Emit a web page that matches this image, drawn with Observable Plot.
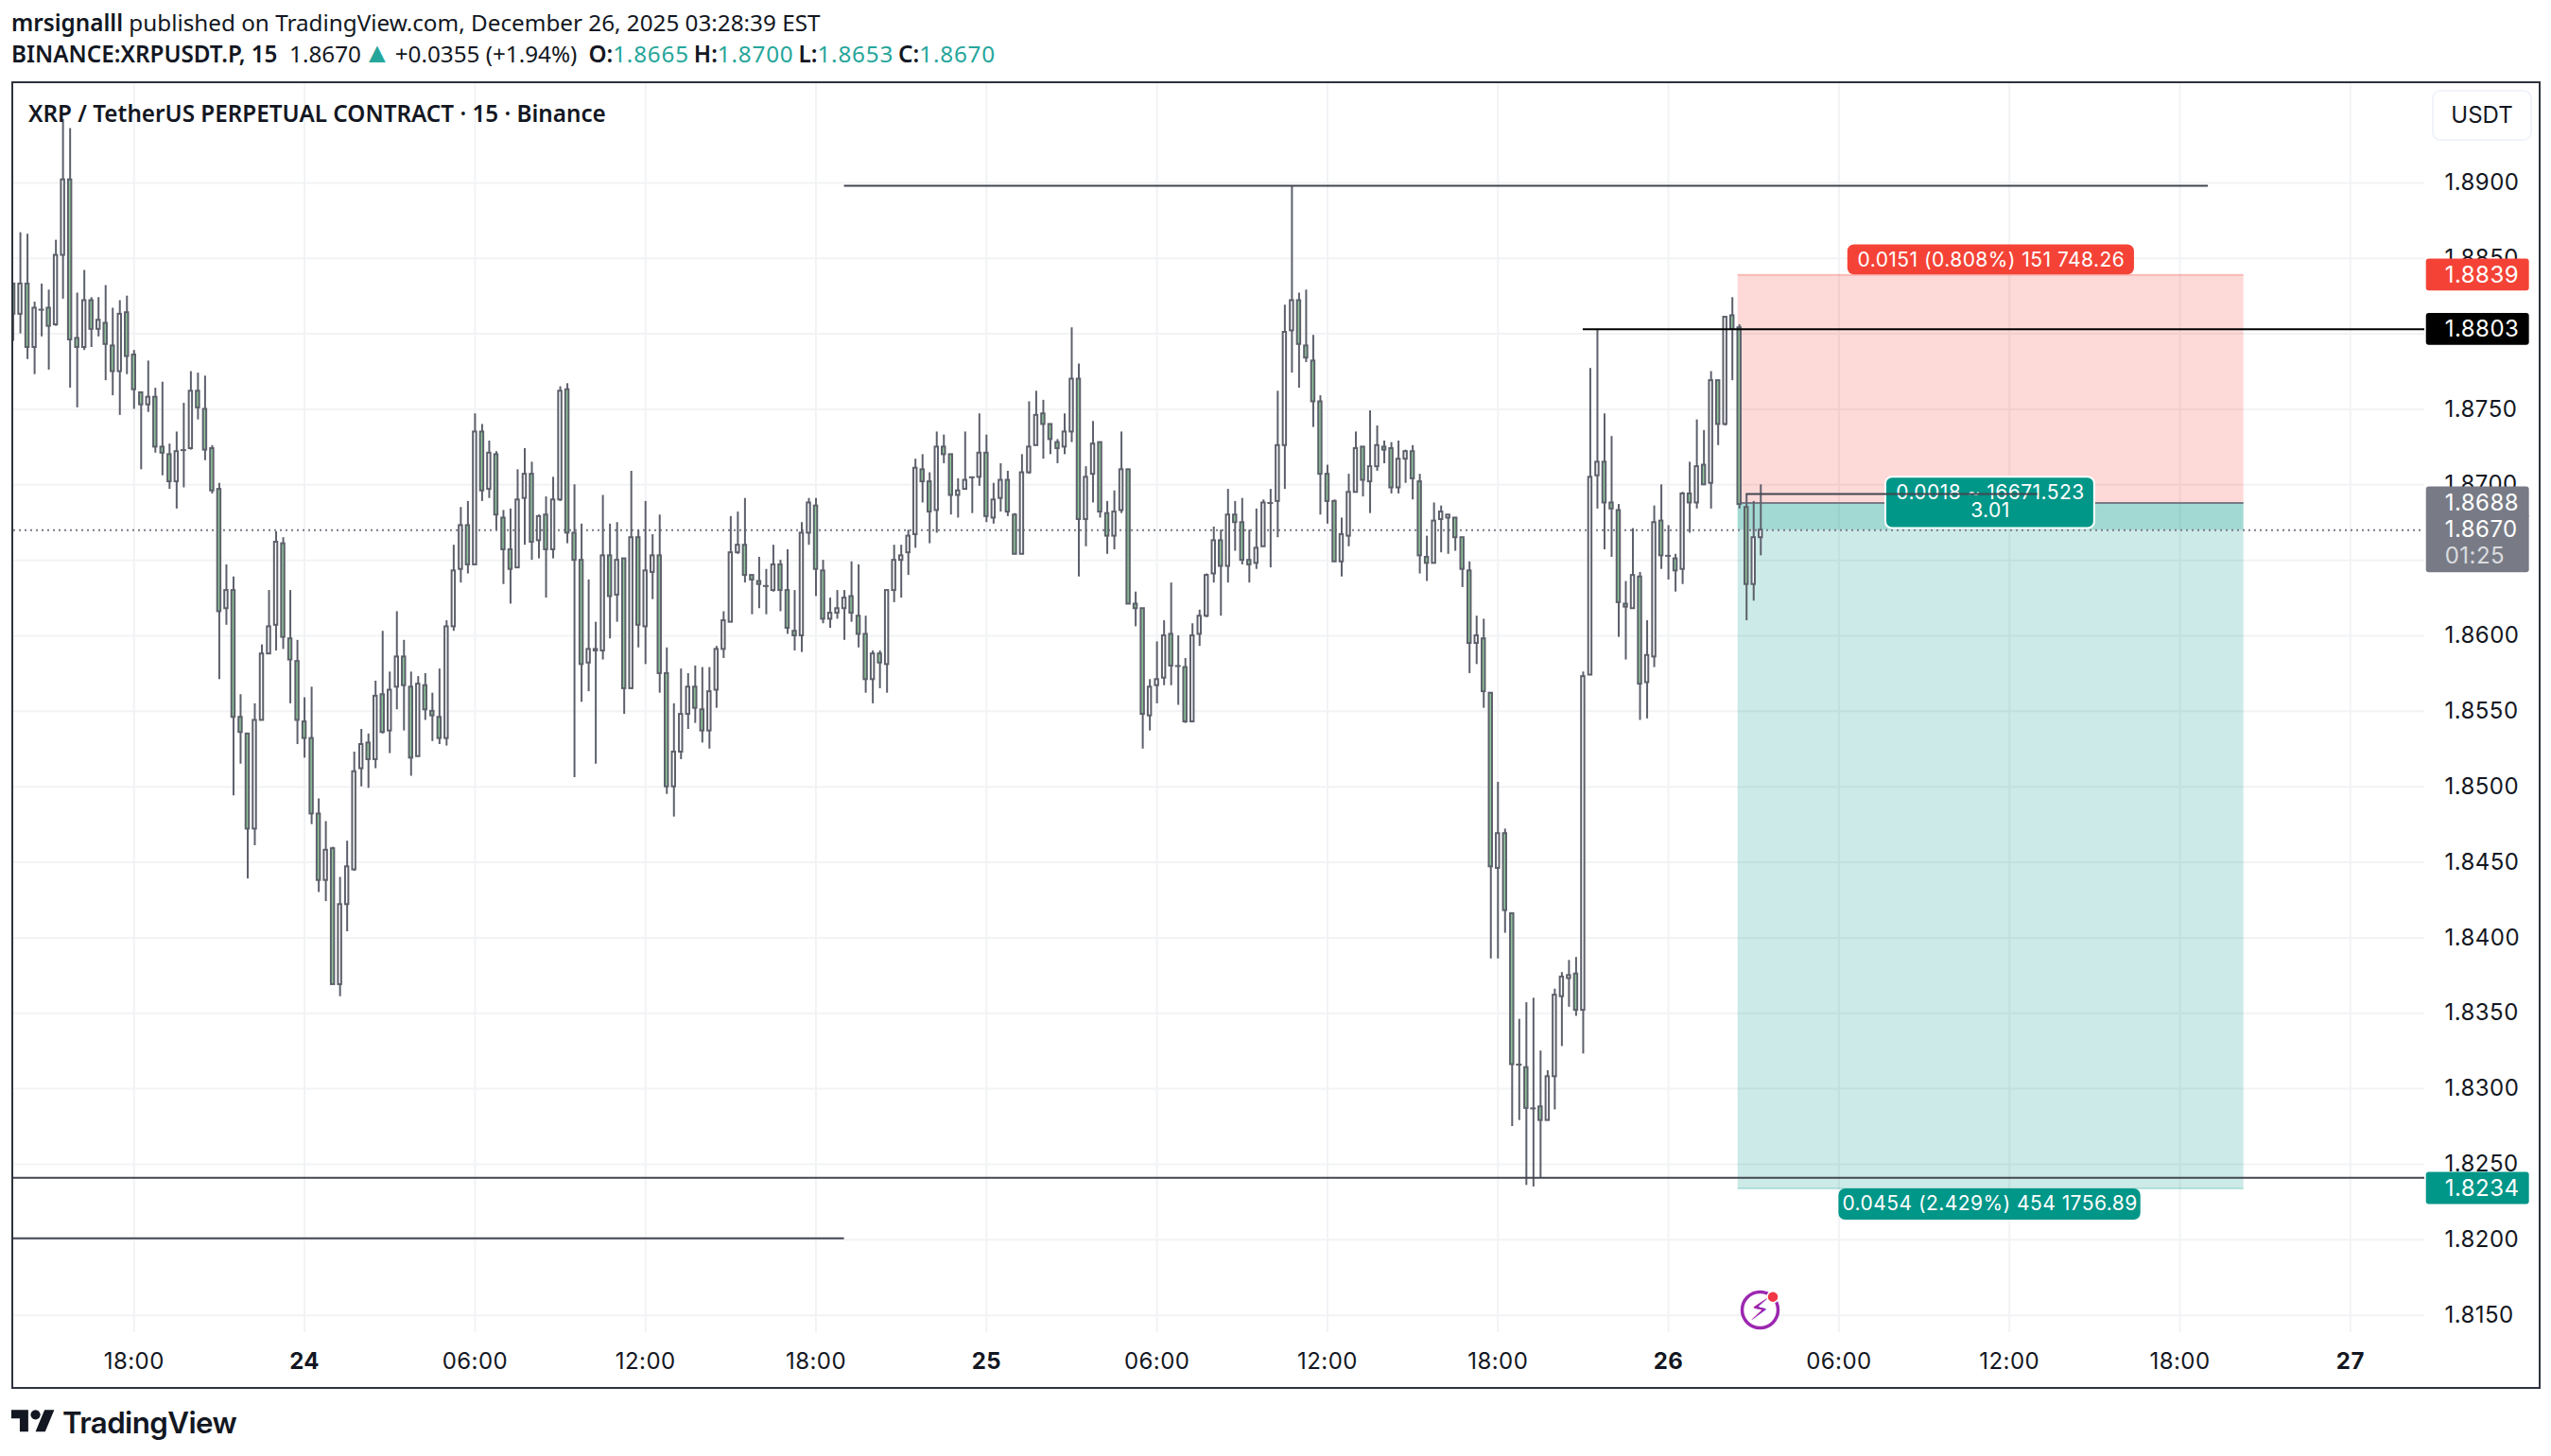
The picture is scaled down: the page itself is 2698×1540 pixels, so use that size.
<!DOCTYPE html>
<html><head><meta charset="utf-8">
<script src="https://cdn.jsdelivr.net/npm/d3@7"></script>
<script src="https://cdn.jsdelivr.net/npm/@observablehq/plot@0.6"></script>
<style>
html,body{margin:0;padding:0;background:#fff;overflow:hidden;width:2698px;height:1540px}
#page{position:relative;width:2698px;height:1540px}
#head{position:relative;height:87px;font-family:"Noto Sans",sans-serif;color:#131722}
.ln{position:absolute;left:12px;white-space:pre;font-size:24.25px;line-height:32px}
.ln b{font-weight:600}.g{color:#26A69A;letter-spacing:.8px}.up{font-size:30px;line-height:20px;margin:0 4px 0 2px;letter-spacing:0}
.q{margin-left:5px}.o{margin-left:12px}
#chartbox svg{display:block}
#chartbox svg text{letter-spacing:.45px}
#frame{position:absolute;left:12px;top:86px;width:2671px;height:1379px;border:2px solid #2E323D;pointer-events:none}
#title{position:absolute;left:30px;top:103px;font:600 24.25px/34px "Noto Sans",sans-serif;color:#131722;white-space:pre}
#usdt{position:absolute;left:2572px;top:95px;width:102px;height:50px;border:2px solid #F0F3FA;border-radius:9px;background:#fff;font:400 24px/50px Inter,sans-serif;color:#131722;text-align:center}
#logo{position:absolute;left:12px;top:1486px;width:46px;height:36px}
#wordmark{position:absolute;left:66px;top:1484px;font:600 31.3px/42px Inter,sans-serif;letter-spacing:-.6px;color:#131722}
</style></head><body>
<div id="page">
<div id="head">
<div class="ln" style="top:8px"><b>mrsignalll</b> published on TradingView.com, December 26, 2025 03:28:39 EST</div>
<div class="ln" style="top:41px"><b>BINANCE:XRPUSDT.P, 15</b>  1.8670<span class="g up">▲</span>+0.0355 (+1.94%)<b class="o">O:</b><span class="g">1.8665</span><b class="q">H:</b><span class="g">1.8700</span><b class="q">L:</b><span class="g">1.8653</span><b class="q">C:</b><span class="g">1.8670</span></div>
</div>
<div id="chartbox"></div>
<div id="frame"></div>
<div id="title">XRP / TetherUS PERPETUAL CONTRACT · 15 · Binance</div>
<div id="usdt">USDT</div>
<svg id="logo" viewBox="0 0 36 28"><path fill="#131722" d="M14 22H7V11H0V4h14v18zM28 22h-8l7.5-18h8L28 22z"/><circle fill="#131722" cx="20" cy="8" r="4"/></svg>
<div id="wordmark">TradingView</div>
</div>
<script>
const firstBar = -17; // bars are counted in 15-minute steps from Dec 23 18:00
const open = [
1.8833,1.8813,1.8833,1.8791,1.8816,1.8817,1.8806,1.8852,1.8902,1.8797,
1.8791,1.8822,1.8803,1.8807,1.8792,1.8775,1.8814,1.8786,1.8761,1.8753,
1.8758,1.8725,1.8720,1.8702,1.8723,1.8724,1.8762,1.8750,1.8724,1.8697,
1.8618,1.8630,1.8546,1.8535,1.8472,1.8544,1.8588,1.8607,1.8661,1.8598,
1.8583,1.8543,1.8532,1.8482,1.8438,1.8459,1.8369,1.8422,1.8445,1.8512,
1.8529,1.8518,1.8561,1.8537,1.8566,1.8586,1.8566,1.8520,1.8567,1.8550,
1.8546,1.8532,1.8606,1.8644,1.8673,1.8647,1.8735,1.8697,1.8720,1.8678,
1.8657,1.8645,1.8691,1.8707,1.8663,1.8680,1.8657,1.8690,1.8763,1.8668,
1.8650,1.8582,1.8591,1.8590,1.8653,1.8627,1.8651,1.8565,1.8665,1.8606,
1.8642,1.8653,1.8575,1.8500,1.8523,1.8548,1.8566,1.8551,1.8537,1.8564,
1.8591,1.8609,1.8655,1.8660,1.8640,1.8636,1.8633,1.8630,1.8647,1.8630,
1.8603,1.8600,1.8668,1.8686,1.8643,1.8611,1.8615,1.8618,1.8626,1.8613,
1.8601,1.8571,1.8588,1.8581,1.8630,1.8650,1.8655,1.8667,1.8710,1.8702,
1.8683,1.8725,1.8720,1.8693,1.8697,1.8705,1.8705,1.8721,1.8678,1.8691,
1.8703,1.8680,1.8654,1.8708,1.8726,1.8747,1.8740,1.8728,1.8725,1.8735,
1.8770,1.8677,1.8707,1.8728,1.8681,1.8666,1.8683,1.8710,1.8621,1.8618,
1.8547,1.8567,1.8572,1.8601,1.8580,1.8579,1.8543,1.8601,1.8613,1.8641,
1.8663,1.8646,1.8680,1.8675,1.8650,1.8648,1.8659,1.8688,1.8689,1.8726,
1.8802,1.8822,1.8792,1.8782,1.8755,1.8707,1.8689,1.8649,1.8666,1.8695,
1.8725,1.8702,1.8712,1.8725,1.8724,1.8698,1.8717,1.8722,1.8702,1.8652,
1.8648,1.8677,1.8678,1.8678,1.8665,1.8643,1.8595,1.8598,1.8562,1.8446,
1.8469,1.8416,1.8316,1.8314,1.8287,1.8288,1.8279,1.8308,1.8361,1.8373,
1.8376,1.8352,1.8574,1.8706,1.8715,1.8688,1.8683,1.8621,1.8618,1.8639,
1.8569,1.8586,1.8676,1.8653,1.8651,1.8644,1.8694,1.8688,1.8713,1.8701,
1.8769,1.8740,1.8812,1.8804,1.8685,1.8634,1.8665];
const close = [
1.8813,1.8833,1.8791,1.8817,1.8816,1.8805,1.8852,1.8902,1.8796,1.8791,
1.8822,1.8803,1.8809,1.8793,1.8775,1.8813,1.8785,1.8763,1.8753,1.8758,
1.8725,1.8721,1.8702,1.8722,1.8723,1.8762,1.8751,1.8723,1.8696,1.8616,
1.8630,1.8546,1.8536,1.8472,1.8544,1.8588,1.8606,1.8662,1.8599,1.8584,
1.8544,1.8532,1.8482,1.8438,1.8458,1.8369,1.8422,1.8447,1.8510,1.8528,
1.8518,1.8560,1.8536,1.8564,1.8586,1.8567,1.8519,1.8568,1.8551,1.8547,
1.8532,1.8606,1.8643,1.8673,1.8647,1.8735,1.8696,1.8721,1.8680,1.8657,
1.8644,1.8690,1.8707,1.8662,1.8679,1.8657,1.8690,1.8762,1.8668,1.8650,
1.8581,1.8591,1.8590,1.8653,1.8626,1.8650,1.8565,1.8665,1.8607,1.8643,
1.8653,1.8575,1.8500,1.8523,1.8548,1.8566,1.8552,1.8537,1.8563,1.8591,
1.8610,1.8655,1.8660,1.8640,1.8637,1.8634,1.8633,1.8647,1.8630,1.8605,
1.8600,1.8668,1.8688,1.8644,1.8611,1.8615,1.8618,1.8625,1.8615,1.8601,
1.8571,1.8588,1.8582,1.8630,1.8650,1.8653,1.8666,1.8711,1.8702,1.8682,
1.8725,1.8720,1.8693,1.8696,1.8703,1.8705,1.8721,1.8679,1.8690,1.8703,
1.8682,1.8654,1.8708,1.8725,1.8746,1.8740,1.8730,1.8724,1.8735,1.8770,
1.8677,1.8705,1.8727,1.8682,1.8666,1.8682,1.8710,1.8621,1.8618,1.8548,
1.8566,1.8571,1.8600,1.8580,1.8580,1.8543,1.8600,1.8613,1.8640,1.8663,
1.8646,1.8680,1.8675,1.8650,1.8647,1.8658,1.8688,1.8688,1.8726,1.8801,
1.8822,1.8793,1.8784,1.8755,1.8707,1.8689,1.8649,1.8667,1.8695,1.8724,
1.8703,1.8712,1.8726,1.8723,1.8698,1.8717,1.8722,1.8704,1.8653,1.8648,
1.8676,1.8682,1.8680,1.8665,1.8644,1.8595,1.8600,1.8563,1.8447,1.8469,
1.8418,1.8316,1.8316,1.8287,1.8287,1.8279,1.8308,1.8362,1.8374,1.8375,
1.8352,1.8573,1.8705,1.8715,1.8688,1.8684,1.8622,1.8619,1.8640,1.8568,
1.8587,1.8675,1.8653,1.8653,1.8643,1.8694,1.8688,1.8712,1.8700,1.8769,
1.8740,1.8811,1.8803,1.8687,1.8634,1.8665,1.8670];
const high = [
1.8833,1.8867,1.8866,1.8821,1.8833,1.8829,1.8862,1.8942,1.8936,1.8827,
1.8842,1.8824,1.8824,1.8832,1.8817,1.8822,1.8825,1.8789,1.8761,1.8782,
1.8764,1.8768,1.8727,1.8735,1.8754,1.8775,1.8774,1.8772,1.8726,1.8701,
1.8647,1.8639,1.8561,1.8535,1.8555,1.8594,1.8630,1.8669,1.8665,1.8630,
1.8597,1.8559,1.8566,1.8492,1.8477,1.8460,1.8440,1.8464,1.8523,1.8538,
1.8535,1.8570,1.8603,1.8576,1.8616,1.8597,1.8576,1.8573,1.8575,1.8562,
1.8578,1.8610,1.8660,1.8685,1.8689,1.8747,1.8740,1.8729,1.8722,1.8683,
1.8684,1.8710,1.8724,1.8715,1.8680,1.8692,1.8705,1.8765,1.8767,1.8700,
1.8674,1.8637,1.8609,1.8693,1.8674,1.8675,1.8651,1.8709,1.8670,1.8689,
1.8667,1.8680,1.8592,1.8555,1.8578,1.8575,1.8580,1.8579,1.8579,1.8593,
1.8616,1.8679,1.8682,1.8691,1.8640,1.8652,1.8644,1.8660,1.8650,1.8657,
1.8630,1.8675,1.8691,1.8691,1.8650,1.8625,1.8630,1.8630,1.8649,1.8647,
1.8613,1.8590,1.8590,1.8630,1.8660,1.8660,1.8670,1.8717,1.8720,1.8708,
1.8735,1.8733,1.8720,1.8704,1.8735,1.8705,1.8747,1.8733,1.8701,1.8714,
1.8709,1.8681,1.8720,1.8755,1.8762,1.8756,1.8740,1.8730,1.8747,1.8804,
1.8780,1.8712,1.8742,1.8728,1.8689,1.8696,1.8735,1.8710,1.8629,1.8618,
1.8571,1.8596,1.8610,1.8635,1.8600,1.8585,1.8608,1.8617,1.8641,1.8672,
1.8670,1.8697,1.8689,1.8691,1.8670,1.8684,1.8690,1.8697,1.8762,1.8819,
1.8898,1.8827,1.8829,1.8799,1.8759,1.8713,1.8690,1.8678,1.8707,1.8735,
1.8725,1.8749,1.8739,1.8729,1.8728,1.8729,1.8723,1.8726,1.8707,1.8666,
1.8688,1.8686,1.8680,1.8678,1.8665,1.8649,1.8613,1.8611,1.8562,1.8503,
1.8472,1.8416,1.8346,1.8357,1.8360,1.8325,1.8312,1.8366,1.8377,1.8385,
1.8387,1.8576,1.8777,1.8803,1.8747,1.8732,1.8687,1.8636,1.8671,1.8642,
1.8610,1.8686,1.8700,1.8673,1.8654,1.8695,1.8715,1.8743,1.8736,1.8775,
1.8769,1.8811,1.8824,1.8806,1.8694,1.8689,1.8700];
const low = [
1.8795,1.8800,1.8783,1.8773,1.8798,1.8776,1.8805,1.8823,1.8764,1.8751,
1.8789,1.8791,1.8798,1.8769,1.8759,1.8746,1.8773,1.8750,1.8710,1.8748,
1.8721,1.8706,1.8697,1.8684,1.8698,1.8723,1.8743,1.8716,1.8694,1.8571,
1.8607,1.8494,1.8515,1.8439,1.8461,1.8544,1.8588,1.8590,1.8591,1.8555,
1.8528,1.8519,1.8475,1.8430,1.8424,1.8369,1.8361,1.8404,1.8444,1.8500,
1.8499,1.8512,1.8535,1.8522,1.8551,1.8537,1.8507,1.8520,1.8544,1.8530,
1.8528,1.8527,1.8603,1.8635,1.8641,1.8647,1.8689,1.8691,1.8670,1.8634,
1.8621,1.8645,1.8660,1.8650,1.8651,1.8625,1.8651,1.8689,1.8661,1.8506,
1.8556,1.8563,1.8515,1.8584,1.8598,1.8609,1.8548,1.8565,1.8592,1.8581,
1.8624,1.8562,1.8495,1.8480,1.8518,1.8538,1.8542,1.8529,1.8525,1.8552,
1.8585,1.8609,1.8654,1.8635,1.8614,1.8618,1.8614,1.8629,1.8616,1.8601,
1.8590,1.8589,1.8660,1.8626,1.8608,1.8605,1.8611,1.8597,1.8609,1.8592,
1.8562,1.8555,1.8565,1.8562,1.8622,1.8625,1.8640,1.8658,1.8688,1.8661,
1.8668,1.8714,1.8680,1.8678,1.8697,1.8681,1.8699,1.8675,1.8674,1.8682,
1.8679,1.8654,1.8654,1.8707,1.8726,1.8717,1.8720,1.8714,1.8720,1.8728,
1.8639,1.8659,1.8688,1.8678,1.8654,1.8657,1.8681,1.8621,1.8606,1.8525,
1.8537,1.8555,1.8567,1.8567,1.8554,1.8542,1.8543,1.8593,1.8612,1.8635,
1.8613,1.8635,1.8656,1.8647,1.8635,1.8644,1.8659,1.8645,1.8665,1.8697,
1.8774,1.8764,1.8781,1.8738,1.8680,1.8674,1.8649,1.8639,1.8659,1.8695,
1.8692,1.8681,1.8709,1.8714,1.8694,1.8694,1.8701,1.8690,1.8641,1.8636,
1.8648,1.8655,1.8654,1.8656,1.8632,1.8575,1.8581,1.8552,1.8386,1.8386,
1.8403,1.8275,1.8279,1.8236,1.8235,1.8241,1.8279,1.8286,1.8328,1.8354,
1.8348,1.8323,1.8574,1.8684,1.8657,1.8652,1.8599,1.8584,1.8618,1.8544,
1.8545,1.8579,1.8644,1.8637,1.8629,1.8634,1.8668,1.8684,1.8700,1.8684,
1.8726,1.8739,1.8769,1.8684,1.8610,1.8623,1.8653];

const priceTicks = [1.815,1.82,1.825,1.83,1.835,1.84,1.845,1.85,1.855,1.86,1.865,1.87,1.875,1.88,1.885,1.89];
const hourTicks = [0,48,72,96,144,168,192,240,264,288];
const hourLabels = ["18:00","06:00","12:00","18:00","06:00","12:00","18:00","06:00","12:00","18:00"];
const dayTicks = [24,120,216,312];
const dayLabels = ["24","25","26","27"];

const stopPrice = 1.8839, entryPrice = 1.8688, targetPrice = 1.8234, lastPrice = 1.8670;
const boxStart = 225.8, boxEnd = 297;
const levelLines = [
  {x1:100,x2:292,y:1.8898,stroke:"#434651"},
  {x1:204,x2:322.47,y:1.8803,stroke:"#000000"},
  {x1:-16.94,x2:322.47,y:1.8241,stroke:"#434651"},
  {x1:-16.94,x2:100,y:1.8201,stroke:"#434651"},
  {x1:227,x2:268,y:1.8694,stroke:"#434651"}
];
const tagPrices = [stopPrice,1.8803,targetPrice,entryPrice];
const tagFills = ["#F44336","#000000","#009688","#787B86"];
const tagTexts = ["1.8839","1.8803","1.8234","1.8688"];
const pills = [
  {x1:241.25,x2:281.6,y1:1.8839,y2:1.8859,lines:[{y:1.8849,t:"0.0151 (0.808%) 151 748.26"}]},
  {x1:240,x2:282.5,y1:1.8213,y2:1.82337,lines:[{y:1.82235,t:"0.0454 (2.429%) 454 1756.89"}]},
  {x1:246.6,x2:276,y1:1.8671,y2:1.8705,lines:[{y:1.8695,t:"0.0018 ~ 16671.523"},{y:1.86825,t:"3.01"}]}
];

const candles = open.map((o,i)=>({n:firstBar+i,o,c:close[i],h:high[i],l:low[i]}));
const up = candles.filter(d=>d.c>d.o), down = candles.filter(d=>d.c<d.o), flat = candles.filter(d=>d.c===d.o);
const wickColor = "#5D606B", downFill = "#8FC99A", gridColor = "#F2F3F5";
const halfBody = 0.23;
const body = (rows,fill)=>Plot.rect(rows,{x1:d=>d.n-halfBody,x2:d=>d.n+halfBody,y1:d=>Math.min(d.o,d.c),y2:d=>Math.max(d.o,d.c),fill,stroke:wickColor,strokeWidth:2,clip:true});
const tagX1 = 322.7, tagX2 = 337.2, tagTextX = 325.3, halfTag = 0.00106;
const font = "Inter, sans-serif";

const plot = Plot.plot({
  width:2698,height:1381,marginLeft:14,marginRight:134,marginTop:1,marginBottom:59,
  style:{fontFamily:font,background:"#fff",maxWidth:"none"},
  x:{domain:[-16.94,322.47]},
  y:{domain:[1.81385,1.89657]},
  marks:[
    Plot.ruleY(priceTicks,{stroke:gridColor,strokeWidth:2}),
    Plot.ruleX([...hourTicks,...dayTicks],{stroke:gridColor,strokeWidth:2}),
    Plot.axisY({anchor:"right",ticks:priceTicks,tickFormat:d3.format(".4f"),tickSize:0,tickPadding:21,fontSize:24,fill:"#131722",label:null,fontVariant:"normal"}),
    Plot.axisX({ticks:hourTicks,tickFormat:d=>hourLabels[hourTicks.indexOf(d)],tickSize:0,tickPadding:21,fontSize:24,fill:"#131722",label:null,fontVariant:"normal"}),
    Plot.axisX({ticks:dayTicks,tickFormat:d=>dayLabels[dayTicks.indexOf(d)],tickSize:0,tickPadding:21,fontSize:24,fontWeight:700,fill:"#131722",label:null,fontVariant:"normal"}),
    // position tool
    Plot.rect([0],{x1:boxStart,x2:boxEnd,y1:entryPrice,y2:stopPrice,fill:"#F44336",fillOpacity:.2}),
    Plot.rect([0],{x1:boxStart,x2:boxEnd,y1:targetPrice,y2:entryPrice,fill:"#009688",fillOpacity:.2}),
    Plot.rect([0],{x1:boxStart,x2:boxEnd,y1:lastPrice,y2:entryPrice,fill:"#009688",fillOpacity:.2}),
    Plot.ruleY([stopPrice],{x1:boxStart,x2:boxEnd,stroke:"#F44336",strokeOpacity:.25,strokeWidth:2}),
    Plot.ruleY([targetPrice],{x1:boxStart,x2:boxEnd,stroke:"#009688",strokeOpacity:.25,strokeWidth:2}),
    Plot.ruleY([entryPrice],{x1:boxStart,x2:boxEnd,stroke:"#787B86",strokeWidth:2}),
    Plot.ruleY([lastPrice],{x1:-16.94,x2:322.47,stroke:"#787B86",strokeWidth:2,strokeDasharray:"2,4"}),
    // candles
    Plot.ruleX(candles,{x:"n",y1:"l",y2:"h",stroke:wickColor,strokeWidth:2,clip:true}),
    body(up,"#FFFFFF"),
    body(down,downFill),
    Plot.ruleY(flat,{x1:d=>d.n-.4,x2:d=>d.n+.4,y:"c",stroke:wickColor,strokeWidth:2,clip:true}),
    // pills
    Plot.rect(pills,{x1:"x1",x2:"x2",y1:"y1",y2:"y2",fill:d=>d.lines.length>1?"#009688":(d.y1>1.85?"#F44336":"#009688"),stroke:d=>d.lines.length>1?"#fff":"none",strokeWidth:2,rx:7}),
    Plot.text(pills.flatMap(p=>p.lines.map(l=>({x:(p.x1+p.x2)/2,y:l.y,t:l.t}))),{x:"x",y:"y",text:"t",fill:"#fff",fontSize:21,lineAnchor:"middle"}),
    // level lines
    Plot.ruleY(levelLines,{x1:"x1",x2:"x2",y:"y",stroke:"stroke",strokeWidth:2}),
    // price tags
    Plot.rect(tagPrices,{x1:tagX1,x2:tagX2,y1:d=>d-halfTag,y2:d=>d+halfTag,fill:(d,i)=>tagFills[i],rx:3}),
    Plot.rect([0],{x1:tagX1,x2:tagX2,y1:1.86418,y2:1.86803,fill:"#787B86",rx:3}),
    Plot.text(tagPrices,{x:tagTextX,y:d=>d,text:(d,i)=>tagTexts[i],fill:"#fff",fontSize:24,textAnchor:"start",lineAnchor:"middle"}),
    Plot.text([lastPrice],{x:tagTextX,y:d=>d,text:d=>d.toFixed(4),fill:"#fff",fontSize:24,textAnchor:"start",lineAnchor:"middle"}),
    Plot.text(["01:25"],{x:tagTextX,y:1.8653,text:d=>d,fill:"#DADBDF",fontSize:24,textAnchor:"start",lineAnchor:"middle"}),
    // indicator badge
    Plot.dot([0],{x:228.9,y:1.81535,r:19,stroke:"#9C27B0",strokeWidth:3.5,fill:"#fff"}),
    Plot.text(["⚡"],{x:228.9,y:1.81535,text:d=>d,fill:"#9C27B0",fontSize:32,fontWeight:700,fontFamily:"DejaVu Sans",lineAnchor:"middle"}),
    Plot.dot([0],{x:230.7,y:1.81622,r:6,fill:"#F23645",stroke:"#fff",strokeWidth:1.5})
  ]
});
document.getElementById("chartbox").appendChild(plot);
</script>
</body></html>
